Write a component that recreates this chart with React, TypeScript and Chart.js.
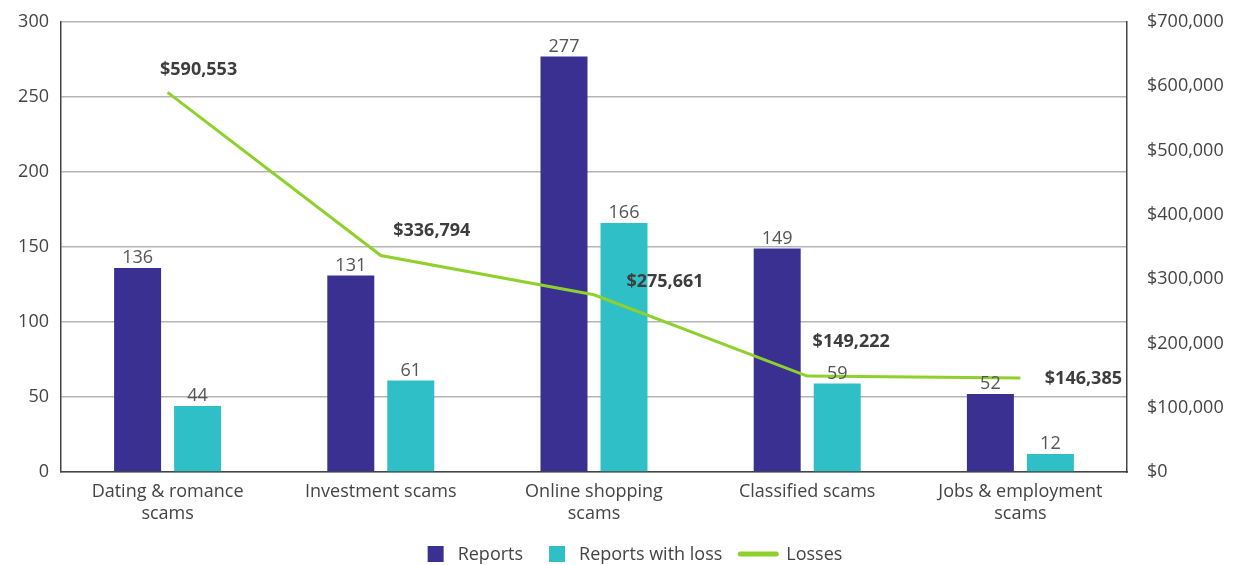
import React, { useEffect, useRef } from "react";
import { Chart, registerables } from "chart.js";

Chart.register(...registerables);

const categories: string[][] = [
  ["Dating & romance", "scams"],
  ["Investment scams"],
  ["Online shopping", "scams"],
  ["Classified scams"],
  ["Jobs & employment", "scams"],
];
const reports = [136, 131, 277, 149, 52];
const reportsWithLoss = [44, 61, 166, 59, 12];
const losses = [590553, 336794, 275661, 149222, 146385];
const countTicksMax = 300;
const countTicksStep = 50;
const moneyTicksMax = 700000;
const moneyTicksStep = 100000;

const PURPLE = "#3A3092";
const TEAL = "#2EBFC7";
const GREEN = "#8ED12C";
const FONT = "'Open Sans', 'DejaVu Sans', sans-serif";

// label offsets (style) for loss labels relative to the line points
const lossLabelDx = [31, 51, 71, 44, 63];
const lossLabelDy = [-22, -25, -13, -34, 1];

const money = (v: number) => "$" + Math.round(v).toLocaleString("en-US");

const labelPlugin = {
  id: "valueLabels",
  afterDatasetsDraw(chart: any) {
    const ctx = chart.ctx;
    ctx.save();
    ctx.textAlign = "center";
    ctx.textBaseline = "alphabetic";
    ctx.font = `18px ${FONT}`;
    ctx.fillStyle = "#555555";
    [0, 1].forEach((di) => {
      const meta = chart.getDatasetMeta(di);
      meta.data.forEach((el: any, i: number) => {
        const v = chart.data.datasets[di].data[i];
        ctx.fillText(String(v), el.x, el.y - 5);
      });
    });
    const lm = chart.getDatasetMeta(2);
    ctx.font = `bold 18px ${FONT}`;
    ctx.fillStyle = "#3d3d3d";
    ctx.textBaseline = "middle";
    lm.data.forEach((el: any, i: number) => {
      const v = chart.data.datasets[2].data[i];
      ctx.fillText(money(v), el.x + lossLabelDx[i], el.y + lossLabelDy[i]);
    });
    ctx.restore();
  },
};

const legendPlugin = {
  id: "customLegend",
  afterDraw(chart: any) {
    const ctx = chart.ctx;
    ctx.save();
    ctx.font = `18px ${FONT}`;
    ctx.textBaseline = "middle";
    ctx.textAlign = "left";
    const items = [
      { text: "Reports", color: PURPLE, line: false },
      { text: "Reports with loss", color: TEAL, line: false },
      { text: "Losses", color: GREEN, line: true },
    ];
    const widths = items.map((it) => {
      const sym = it.line ? 40 : 16;
      const gap = it.line ? 8 : 14;
      return sym + gap + ctx.measureText(it.text).width;
    });
    const spacing = [26, 16];
    const total = widths.reduce((a, b) => a + b, 0) + spacing[0] + spacing[1];
    let x = 635 - total / 2;
    const y = 554;
    items.forEach((it, i) => {
      if (it.line) {
        ctx.strokeStyle = it.color;
        ctx.lineWidth = 5;
        ctx.lineCap = "round";
        ctx.beginPath();
        ctx.moveTo(x + 2, y);
        ctx.lineTo(x + 38, y);
        ctx.stroke();
        x += 48;
      } else {
        ctx.fillStyle = it.color;
        ctx.fillRect(x, y - 8, 16, 16);
        x += 30;
      }
      ctx.fillStyle = "#444444";
      ctx.fillText(it.text, x, y + 1);
      x += ctx.measureText(it.text).width;
      if (i < spacing.length) x += spacing[i];
    });
    ctx.restore();
  },
};

export default function App() {
  const ref = useRef<HTMLCanvasElement | null>(null);
  useEffect(() => {
    if (!ref.current) return;
    const chart = new Chart(ref.current, {
      type: "bar",
      data: {
        labels: categories as any,
        datasets: [
          {
            label: "Reports",
            data: reports,
            backgroundColor: PURPLE,
            yAxisID: "y",
            order: 1,
            categoryPercentage: 0.563,
            barPercentage: 0.783,
          } as any,
          {
            label: "Reports with loss",
            data: reportsWithLoss,
            backgroundColor: TEAL,
            yAxisID: "y",
            order: 1,
            categoryPercentage: 0.563,
            barPercentage: 0.783,
          } as any,
          {
            type: "line",
            label: "Losses",
            data: losses,
            borderColor: GREEN,
            backgroundColor: GREEN,
            borderWidth: 3,
            pointRadius: 0,
            tension: 0,
            yAxisID: "y1",
            order: 0,
          } as any,
        ],
      },
      options: {
        animation: false,
        responsive: false,
        layout: { padding: { top: 22, left: 0, right: 0, bottom: 0 } },
        plugins: {
          legend: { display: false },
          tooltip: { enabled: false },
        },
        scales: {
          x: {
            grid: { display: false, drawTicks: false },
            border: { display: true, color: "#444444", width: 1.5 },
            ticks: {
              color: "#444444",
              font: { family: FONT, size: 18 },
              padding: 9,
              maxRotation: 0,
              autoSkip: false,
            },
            afterFit(scale: any) {
              scale.height = 93;
              scale.paddingLeft = 0;
              scale.paddingRight = 0;
            },
          },
          y: {
            position: "left",
            min: 0,
            max: countTicksMax,
            ticks: {
              stepSize: countTicksStep,
              color: "#444444",
              font: { family: FONT, size: 18 },
              padding: 12,
            },
            grid: { color: "#b5b5b5", lineWidth: 1.5, drawTicks: false },
            border: { display: true, color: "#444444", width: 1.5 },
            afterFit(scale: any) {
              scale.width = 61;
              scale.paddingTop = 0;
              scale.paddingBottom = 0;
            },
          },
          y1: {
            position: "right",
            min: 0,
            max: moneyTicksMax,
            ticks: {
              stepSize: moneyTicksStep,
              color: "#444444",
              font: { family: FONT, size: 18 },
              padding: 20,
              callback: (v: any) => money(Number(v)),
            },
            grid: { display: false, drawTicks: false },
            border: { display: true, color: "#444444", width: 1.5 },
            afterFit(scale: any) {
              scale.width = 123;
              scale.paddingTop = 0;
              scale.paddingBottom = 0;
            },
          },
        },
      } as any,
      plugins: [labelPlugin, legendPlugin],
    });
    return () => chart.destroy();
  }, []);
  return (
    <div style={{ position: "fixed", left: 0, top: 0, width: 1250, height: 565, overflow: "hidden" }}>
      <canvas ref={ref} width={1250} height={565} style={{ display: "block" }} />
    </div>
  );
}
